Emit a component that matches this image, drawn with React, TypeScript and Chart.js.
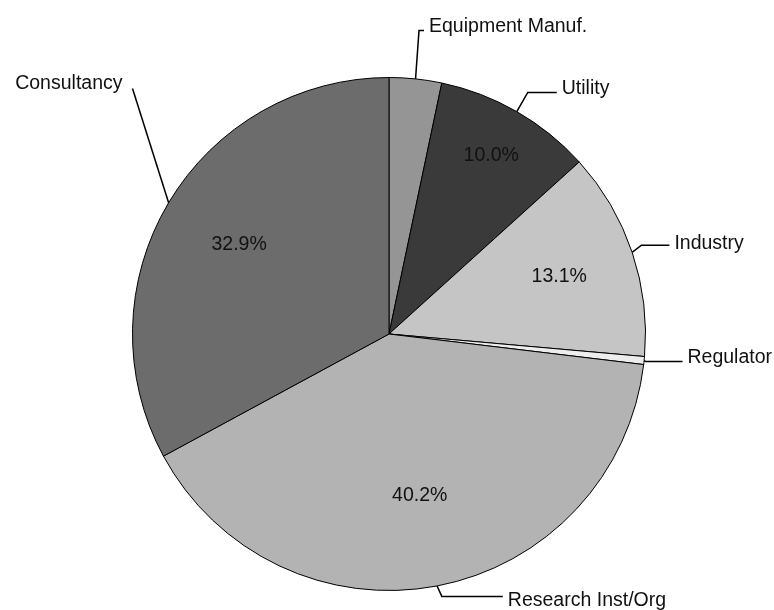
import React, { useEffect, useRef } from "react";
import { Chart, registerables } from "chart.js";

Chart.register(...registerables);

const categories = ["Equipment Manuf.", "Utility", "Industry", "Regulator", "Research Inst/Org", "Consultancy"];
const shares = [3.3, 10.0, 13.1, 0.5, 40.2, 32.9];
const showPercent = [false, true, true, false, true, true];
const sliceColors = ["#959595", "#3a3a3a", "#c5c5c5", "#ededed", "#b3b3b3", "#6c6c6c"];

// label layout: elbow position relative to pie centre (in radii), hook length (px), text dy
const elbowX = [0.117, 0.541, 0.984, 1.0, 0.206, -1.0];
const elbowY = [-1.183, -0.942, -0.346, 0.107, 1.023, -0.957];
const hookLen = [5, 29, 28, 37, 61, 0];
const textDy = [-4, -3.5, -2, -4, 4, -4.5];
const pctRadius = [0, 0.8, 0.7, 0, 0.64, 0.68];

const FONT = "19.5px 'Liberation Sans', Arial, sans-serif";

const labelPlugin = {
  id: "outerLabels",
  afterDatasetsDraw(chart: any) {
    const ctx = chart.ctx;
    const meta = chart.getDatasetMeta(0);
    ctx.save();
    ctx.font = FONT;
    ctx.fillStyle = "#111";
    ctx.strokeStyle = "#000";
    ctx.lineWidth = 1.5;
    meta.data.forEach((arc: any, i: number) => {
      const { x, y, outerRadius, startAngle, endAngle } = arc.getProps(["x", "y", "outerRadius", "startAngle", "endAngle"], true);
      const mid = (startAngle + endAngle) / 2;
      const ex = x + Math.cos(mid) * outerRadius;
      const ey = y + Math.sin(mid) * outerRadius;
      const bx = x + elbowX[i] * outerRadius;
      const by = y + elbowY[i] * outerRadius;
      const dir = elbowX[i] >= 0 ? 1 : -1;
      const hx = bx + dir * hookLen[i];
      ctx.beginPath();
      ctx.moveTo(ex, ey);
      ctx.lineTo(bx, by);
      ctx.lineTo(hx, by);
      ctx.stroke();
      ctx.textBaseline = "middle";
      ctx.textAlign = dir > 0 ? "left" : "right";
      ctx.fillText(categories[i], hx + dir * (dir > 0 ? 5 : 10), by + textDy[i]);
      if (showPercent[i]) {
        const r = pctRadius[i] * outerRadius;
        ctx.textAlign = "center";
        ctx.fillText(shares[i].toFixed(1) + "%", x + Math.cos(mid) * r, y + Math.sin(mid) * r);
      }
    });
    ctx.restore();
  },
};

export default function App() {
  const ref = useRef<HTMLCanvasElement>(null);
  useEffect(() => {
    if (!ref.current) return;
    const chart = new Chart(ref.current, {
      type: "pie",
      data: {
        labels: categories,
        datasets: [
          {
            data: shares,
            backgroundColor: sliceColors,
            borderColor: "#000",
            borderWidth: 1,
          },
        ],
      },
      options: {
        animation: false,
        responsive: false,
        maintainAspectRatio: false,
        layout: { padding: { top: 77, bottom: 19, left: 132, right: 128 } },
        plugins: { legend: { display: false }, tooltip: { enabled: false } },
      },
      plugins: [labelPlugin],
    });
    return () => chart.destroy();
  }, []);
  return (
    <div style={{ position: "fixed", left: 0, top: 0, width: 774, height: 610, background: "#fff" }}>
      <canvas ref={ref} width={774} height={610} style={{ width: 774, height: 610 }} />
    </div>
  );
}
